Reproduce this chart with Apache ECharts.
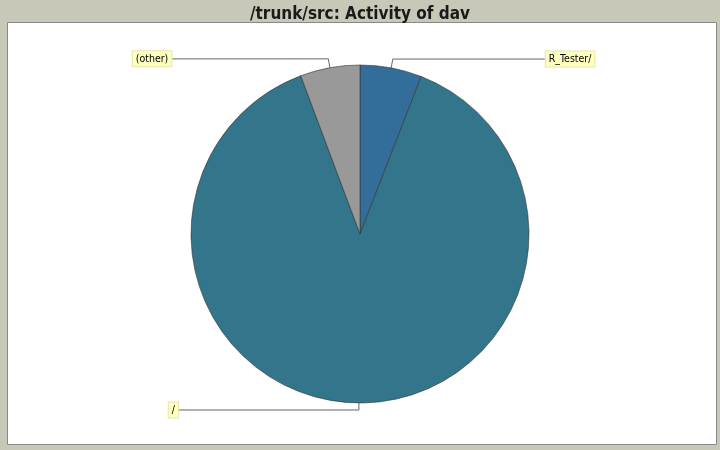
<!DOCTYPE html>
<html lang="en">
<head>
	<meta charset="UTF-8">
	<title>/trunk/src: Activity of dav</title>
	<script src="https://cdn.jsdelivr.net/npm/echarts@6/dist/echarts.min.js"></script>
	<style>
		html, body { margin: 0; padding: 0; background: #c8c8b8; }
	</style>
</head>
<body>
	<div id="main" style="width: 720px;height:450px;"></div>
	<script type="text/javascript">
		// slices, clockwise from 12 o'clock
		var names = ['R_Tester/', '/', '(other)'];
		var values = [5.9, 88.4, 5.7];
		var colors = ['#336d99', '#33758a', '#999999'];
		// label line lengths per slice (radial, horizontal)
		var lineLen = [9, 7, 9];
		var lineLen2 = [152, 180, 156];

		var myChart = echarts.init(document.getElementById('main'));

		var data = [];
		for (var i = 0; i < names.length; i++) {
			data.push({
				name: names[i],
				value: values[i],
				itemStyle: { color: colors[i] },
				labelLine: { length: lineLen[i], length2: lineLen2[i] }
			});
		}

		var option = {
			backgroundColor: '#c8c8b8',
			animation: false,
			title: {
				text: '/trunk/src: Activity of dav',
				left: 'center',
				top: 1,
				textStyle: {
					color: '#1a1a1a',
					fontSize: 17,
					fontWeight: 'bold',
					fontFamily: 'DejaVu Sans Condensed, DejaVu Sans'
				}
			},
			graphic: [{
				type: 'rect',
				z: -1,
				shape: { x: 7.5, y: 22.5, width: 709, height: 422 },
				style: { fill: '#fff', stroke: '#888', lineWidth: 1 }
			}],
			series: [{
				type: 'pie',
				center: [360, 234],
				radius: 169,
				startAngle: 90,
				clockwise: true,
				avoidLabelOverlap: false,
				itemStyle: {
					borderColor: '#333',
					borderWidth: 0.6
				},
				label: {
					show: true,
					formatter: '{b}',
					color: '#000',
					fontSize: 10.5,
					fontFamily: 'DejaVu Sans Condensed, DejaVu Sans',
					backgroundColor: '#ffffc0',
					borderColor: '#e6e6a8',
					borderWidth: 1,
					padding: [2, 3],
					distanceToLabelLine: 1
				},
				labelLine: {
					show: true,
					lineStyle: { color: '#666', width: 1 }
				},
				emphasis: { disabled: true },
				data: data
			}]
		};

		myChart.setOption(option);
	</script>
</body>
</html>
